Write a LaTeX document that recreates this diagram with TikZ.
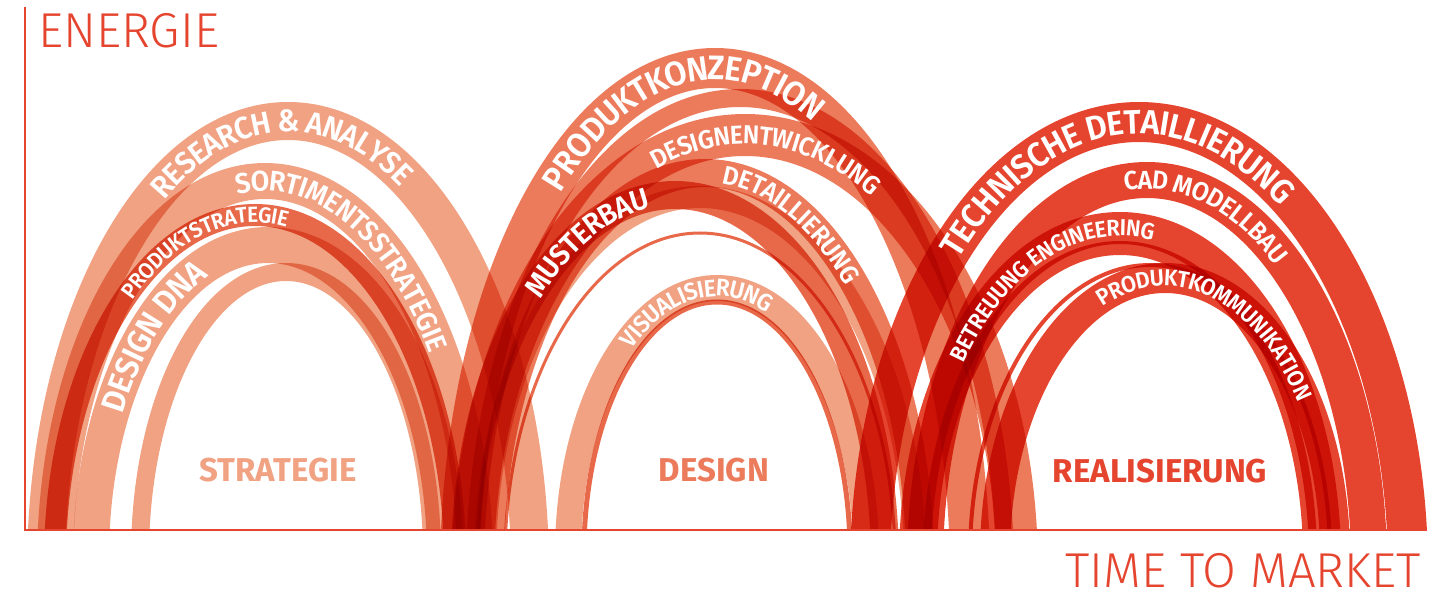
\documentclass[tikz,border=0pt]{standalone}
\usepackage{fontspec}
\setmainfont{Fira Sans}
\newfontfamily\archfont{Fira Sans SemiBold}[FakeStretch=0.95]
\newfontfamily\groupfont{Fira Sans}
\newfontfamily\axisfont{Fira Sans Light}
\usepackage{xcolor}
\usetikzlibrary{decorations.text}
\definecolor{salmon}{HTML}{F0A283}
\definecolor{coral}{HTML}{EC7B5C}
\definecolor{orangered}{HTML}{E8694A}
\definecolor{signalred}{HTML}{E5452F}

\begin{document}
\begin{tikzpicture}[x=1pt, y=1pt,
    band/.style={line width=#1pt},
    arclabel/.style={decorate, decoration={text along path, text color=white}},
    grouplabel/.style={anchor=base, inner sep=0pt, font=\groupfont\bfseries\fontsize{33}{33}\selectfont},
    axislabel/.style={inner sep=0pt, text=signalred, font=\axisfont\fontsize{49}{49}\selectfont}]
    \useasboundingbox (0,-62) rectangle (1439,530);

    % 弧带
    \begin{scope}[blend mode=multiply]
        \clip (0,0) rectangle (1439,530);
        % 策略
        \draw[band=38, salmon] (46,-41) arc[start angle=180, end angle=0, x radius=242, y radius=450];
        \draw[band=36, salmon] (55,-35) arc[start angle=180, end angle=0, x radius=210, y radius=384];
        \draw[band=22, orangered] (55,-32) arc[start angle=180, end angle=0, x radius=200, y radius=347];
        \draw[band=36, salmon] (91,-28) arc[start angle=180, end angle=0, x radius=177, y radius=313];
        \draw[band=18, salmon] (140,-26) arc[start angle=180, end angle=0, x radius=146, y radius=284];
        % 设计
        \draw[band=40, coral] (460,-46) arc[start angle=180, end angle=0, x radius=255, y radius=508];
        \draw[band=18, coral] (475,-43) arc[start angle=180, end angle=0, x radius=265, y radius=475];
        \draw[band=42, coral] (473,-40) arc[start angle=180, end angle=0, x radius=272, y radius=435];
        \draw[band=28, coral] (490,-36) arc[start angle=180, end angle=0, x radius=215, y radius=393];
        \draw[band=28, orangered] (465,-34) arc[start angle=180, end angle=0, x radius=210, y radius=369];
        \draw[band=22, salmon] (485,-33) arc[start angle=180, end angle=0, x radius=215, y radius=366];
        \draw[band=26, salmon] (568,-24) arc[start angle=180, end angle=0, x radius=149, y radius=266];
        \draw[band=5, orangered] (584,-23) arc[start angle=180, end angle=0, x radius=133, y radius=251];
        \draw[band=3, orangered] (505,-30) arc[start angle=180, end angle=0, x radius=195, y radius=327];
        % 实现
        \draw[band=40, signalred] (870,-41) arc[start angle=180, end angle=0, x radius=269, y radius=449];
        \draw[band=36, signalred] (925,-35) arc[start angle=180, end angle=0, x radius=222, y radius=385];
        \draw[band=32, signalred] (915,-30) arc[start angle=180, end angle=0, x radius=205, y radius=332];
        \draw[band=30, signalred] (995,-25) arc[start angle=180, end angle=0, x radius=170, y radius=277];
        \draw[band=14, signalred] (930,-28) arc[start angle=180, end angle=0, x radius=190, y radius=310];
        \draw[band=4, signalred] (970,-26) arc[start angle=180, end angle=0, x radius=180, y radius=291];
    \end{scope}

    % 弧上文字
    \path[arclabel, decoration={raise=-10.7pt, text={|\archfont\fontsize{31}{31}\selectfont|RESEARCH {\&} ANALYSE}}]
        ([shift={(288,-41)}]123:242 and 450) arc[start angle=123, end angle=0, x radius=242, y radius=450];
    \path[arclabel, decoration={raise=-9.8pt, text={|\archfont\fontsize{28.5}{28.5}\selectfont|SORTIMENTSSTRATEGIE}}]
        ([shift={(265,-35)}]98:210 and 384) arc[start angle=98, end angle=-5, x radius=210, y radius=384];
    \path[arclabel, decoration={raise=-7.6pt, text={|\archfont\fontsize{22}{22}\selectfont|PRODUKTSTRATEGIE}}]
        ([shift={(255,-32)}]130:200 and 347) arc[start angle=130, end angle=0, x radius=200, y radius=347];
    \path[arclabel, decoration={raise=-11.4pt, text={|\archfont\fontsize{33}{33}\selectfont|DESIGN DNA}}]
        ([shift={(268,-28)}]152:177 and 313) arc[start angle=152, end angle=30, x radius=177, y radius=313];
    \path[arclabel, decoration={raise=-11.7pt, text={|\archfont\fontsize{34}{34}\selectfont|PRODUKTKONZEPTION}}]
        ([shift={(715,-46)}]130:255 and 508) arc[start angle=130, end angle=0, x radius=255, y radius=508];
    \path[arclabel, decoration={raise=-9pt, text={|\archfont\fontsize{26}{26}\selectfont|DESIGNENTWICKLUNG}}]
        ([shift={(745,-40)}]110:272 and 435) arc[start angle=110, end angle=0, x radius=272, y radius=435];
    \path[arclabel, decoration={raise=-9pt, text={|\archfont\fontsize{26}{26}\selectfont|DETAILLIERUNG}}]
        ([shift={(705,-36)}]85:215 and 393) arc[start angle=85, end angle=-5, x radius=215, y radius=393];
    \path[arclabel, decoration={raise=-10.2pt, text={|\archfont\fontsize{29.5}{29.5}\selectfont|MUSTERBAU}}]
        ([shift={(675,-34)}]133:210 and 369) arc[start angle=133, end angle=0, x radius=210, y radius=369];
    \path[arclabel, decoration={raise=-8.3pt, text={|\archfont\fontsize{24}{24}\selectfont|VISUALISIERUNG}}]
        ([shift={(717,-24)}]128:149 and 266) arc[start angle=128, end angle=0, x radius=149, y radius=266];
    \path[arclabel, decoration={raise=-11.7pt, text={|\archfont\fontsize{34}{34}\selectfont|TECHNISCHE DETAILLIERUNG}}]
        ([shift={(1139,-41)}]135:269 and 449) arc[start angle=135, end angle=-5, x radius=269, y radius=449];
    \path[arclabel, decoration={raise=-9pt, text={|\archfont\fontsize{26}{26}\selectfont|CAD MODELLBAU}}]
        ([shift={(1147,-35)}]96:222 and 385) arc[start angle=96, end angle=-5, x radius=222, y radius=385];
    \path[arclabel, decoration={raise=-7.9pt, text={|\archfont\fontsize{23}{23}\selectfont|BETREUUNG ENGINEERING}}]
        ([shift={(1120,-30)}]143:205 and 332) arc[start angle=143, end angle=0, x radius=205, y radius=332];
    \path[arclabel, decoration={raise=-7.9pt, text={|\archfont\fontsize{23}{23}\selectfont|PRODUKTKOMMUNIKATION}}]
        ([shift={(1165,-25)}]113:170 and 277) arc[start angle=113, end angle=-5, x radius=170, y radius=277];

    % 阶段
    \node[grouplabel, text=salmon] (strategie) at (278,49) {STRATEGIE};
    \node[grouplabel, text=coral] (design) at (714,49) {DESIGN};
    \node[grouplabel, text=signalred] (realisierung) at (1160,48) {REALISIERUNG};

    % 坐标轴
    \coordinate (origin) at (25,0);
    \coordinate (ytop) at (25,523);
    \coordinate (xend) at (1425,0);
    \draw[signalred, line width=2.5pt] (ytop) -- (origin) -- (xend);
    \node[axislabel, anchor=base west] (energie) at (38,482) {ENERGIE};
    \node[axislabel, anchor=base east] (ttm) at (1421,-57) {TIME TO MARKET};
\end{tikzpicture}
\end{document}
